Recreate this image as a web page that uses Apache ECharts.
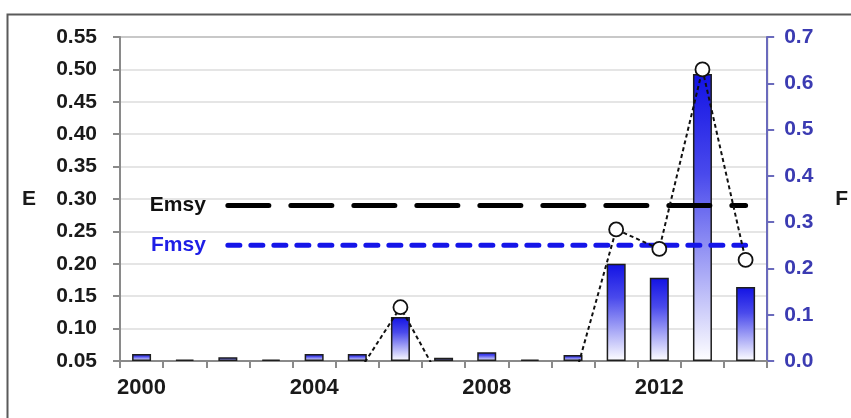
<!DOCTYPE html>
<html>
<head>
<meta charset="utf-8">
<title>E and F by year</title>
<script src="https://cdn.jsdelivr.net/npm/echarts@6/dist/echarts.min.js"></script>
<style>
  html, body { margin: 0; padding: 0; background: #ffffff; }
  #chart { width: 851px; height: 418px; }
</style>
</head>
<body>
<div id="chart"></div>
<script>
// Years on the category axis
const years = ['2000', '2001', '2002', '2003', '2004', '2005', '2006', '2007',
               '2008', '2009', '2010', '2011', '2012', '2013', '2014'];

// Fishing mortality F (bars, right axis)
const fValues = [0.015, 0.003, 0.008, 0.003, 0.015, 0.015, 0.095, 0.007,
                 0.019, 0.003, 0.013, 0.21, 0.18, 0.62, 0.16];

// Exploitation rate E (circles joined by a dotted line, left axis); gaps where not estimated
const eValues = [null, null, null, null, null, 0.03, 0.133, 0.012,
                 null, null, 0.015, 0.253, 0.223, 0.50, 0.206];

// Reference points, drawn from this year onwards
const eMsy = 0.29;
const fMsy = 0.25;
const refFromYear = '2002';

// Axis ranges
const eAxis = { min: 0.05, max: 0.55, interval: 0.05 };
const fAxis = { min: 0, max: 0.7, interval: 0.1 };

const font = 'Liberation Sans, Arial, sans-serif';
const refStart = years.indexOf(refFromYear);

// A flat reference line starting at refFromYear, with its name written to the left of the first point
function refLine(value, name, color) {
  return years.map((y, i) => {
    if (i < refStart) return null;
    if (i === refStart) {
      return {
        value: value,
        label: {
          show: true, position: 'left', distance: 22, formatter: name,
          color: color, fontFamily: font, fontWeight: 'bold', fontSize: 21
        }
      };
    }
    return value;
  });
}

const chart = echarts.init(document.getElementById('chart'), null, { renderer: 'canvas' });

chart.setOption({
  animation: false,
  backgroundColor: '#ffffff',
  graphic: [{
    type: 'polyline',
    shape: { points: [[7.5, 430], [7.5, 14.5], [880, 14.5]] },
    style: { stroke: '#5a5a5a', lineWidth: 2, fill: null },
    silent: true
  }],
  grid: {
    left: 120, right: 80, top: 37, bottom: 57,
    show: true, borderColor: '#8c8c8c', borderWidth: 2, backgroundColor: 'transparent'
  },
  xAxis: {
    type: 'category',
    data: years,
    boundaryGap: true,
    axisLine: { lineStyle: { color: '#8a8a8a', width: 2 } },
    axisTick: { show: true, interval: 0, length: 7, lineStyle: { color: '#8a8a8a', width: 2 } },
    axisLabel: {
      interval: 3, margin: 16, color: '#1a1a1a',
      fontFamily: font, fontWeight: 'bold', fontSize: 22
    },
    splitLine: { show: false }
  },
  yAxis: [{
    type: 'value',
    position: 'left',
    min: eAxis.min, max: eAxis.max, interval: eAxis.interval,
    name: 'E',
    nameLocation: 'middle',
    nameRotate: 0,
    nameGap: 84,
    nameTextStyle: { color: '#1a1a1a', fontFamily: font, fontWeight: 'bold', fontSize: 21, padding: [0, 0, 18, 0] },
    axisLine: { show: true, lineStyle: { color: '#8a8a8a', width: 2 } },
    axisTick: { show: true, length: 7, lineStyle: { color: '#8a8a8a', width: 2 } },
    axisLabel: {
      margin: 23, color: '#1a1a1a', fontFamily: font, fontWeight: 'bold', fontSize: 21,
      formatter: v => v.toFixed(2)
    },
    splitLine: { show: true, lineStyle: { color: '#dcdcdc', width: 1.5 } }
  }, {
    type: 'value',
    position: 'right',
    min: fAxis.min, max: fAxis.max, interval: fAxis.interval,
    name: 'F',
    nameLocation: 'middle',
    nameRotate: 0,
    nameGap: 68,
    nameTextStyle: { color: '#1a1a1a', fontFamily: font, fontWeight: 'bold', fontSize: 21, padding: [0, 0, 18, 0] },
    axisLine: { show: true, lineStyle: { color: '#6a6abc', width: 2 } },
    axisTick: { show: true, length: 7, lineStyle: { color: '#6a6abc', width: 2 } },
    axisLabel: {
      margin: 17, color: '#3b3bb2', fontFamily: font, fontWeight: 'bold', fontSize: 21,
      formatter: v => v.toFixed(1)
    },
    splitLine: { show: false }
  }],
  series: [{
    name: 'F',
    type: 'bar',
    yAxisIndex: 1,
    data: fValues,
    barWidth: 19,
    itemStyle: {
      color: new echarts.graphic.LinearGradient(0, 0, 0, 1, [
        { offset: 0, color: '#1212e4' },
        { offset: 0.35, color: '#4a4aec' },
        { offset: 1, color: '#ffffff' }
      ]),
      borderColor: '#1e1e1e',
      borderWidth: 1.5
    },
    z: 2
  }, {
    name: 'Emsy',
    type: 'line',
    yAxisIndex: 0,
    data: refLine(eMsy, 'Emsy', '#111111'),
    symbol: 'circle',
    symbolSize: 0,
    showSymbol: true,
    lineStyle: { color: '#000000', width: 5, type: [41, 22], cap: 'round' },
    z: 3
  }, {
    name: 'Fmsy',
    type: 'line',
    yAxisIndex: 1,
    data: refLine(fMsy, 'Fmsy', '#1e1ee6'),
    symbol: 'circle',
    symbolSize: 0,
    showSymbol: true,
    lineStyle: { color: '#1515e8', width: 5, type: [12, 11], cap: 'round' },
    z: 3
  }, {
    name: 'E',
    type: 'line',
    yAxisIndex: 0,
    data: eValues,
    clip: true,
    connectNulls: false,
    symbol: 'circle',
    symbolSize: 14,
    itemStyle: { color: '#ffffff', borderColor: '#111111', borderWidth: 1.8 },
    lineStyle: { color: '#111111', width: 2, type: [4, 3] },
    z: 4
  }]
});
</script>
</body>
</html>
